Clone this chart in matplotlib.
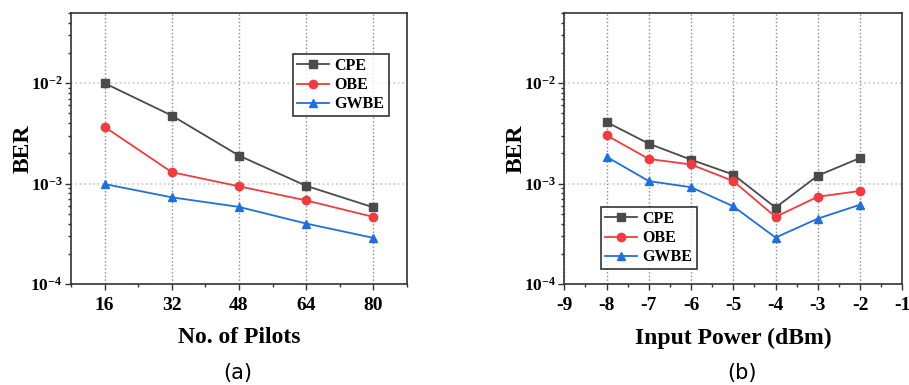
import numpy as np
import matplotlib
matplotlib.use('Agg')
import matplotlib.pyplot as plt
from matplotlib.ticker import FixedLocator, LogLocator, FuncFormatter, NullFormatter

plt.rcParams['font.family'] = 'Liberation Serif'
plt.rcParams['font.weight'] = 'bold'
plt.rcParams['axes.unicode_minus'] = False
plt.rcParams['mathtext.fontset'] = 'custom'
plt.rcParams['mathtext.rm'] = 'Liberation Serif:bold'
plt.rcParams['mathtext.it'] = 'Liberation Serif:bold'
plt.rcParams['mathtext.bf'] = 'Liberation Serif:bold'

# data (a) BER vs number of pilots
pilots = [16, 32, 48, 64, 80]
cpe_a = [1.0e-2, 4.76e-3, 1.9e-3, 9.5e-4, 5.8e-4]
obe_a = [3.67e-3, 1.3e-3, 9.4e-4, 6.8e-4, 4.66e-4]
gwbe_a = [9.9e-4, 7.3e-4, 5.86e-4, 4.0e-4, 2.88e-4]

# data (b) BER vs input power
power = [-8, -7, -6, -5, -4, -3, -2]
cpe_b = [4.1e-3, 2.5e-3, 1.73e-3, 1.23e-3, 5.77e-4, 1.2e-3, 1.8e-3]
obe_b = [3.03e-3, 1.76e-3, 1.55e-3, 1.06e-3, 4.66e-4, 7.4e-4, 8.45e-4]
gwbe_b = [1.85e-3, 1.06e-3, 9.2e-4, 5.94e-4, 2.9e-4, 4.48e-4, 6.16e-4]

names = ['CPE', 'OBE', 'GWBE']
colors = ['#4a4a4a', '#f03c3c', '#1f6fde']
markers = ['s', 'o', '^']

fig = plt.figure(figsize=(9.09, 3.85), dpi=100)
ax1 = fig.add_axes([0.0781, 0.2623, 0.3696, 0.7039])
ax2 = fig.add_axes([0.6208, 0.2623, 0.3718, 0.7039])


def ylabfmt(v, pos):
    e = int(round(np.log10(v)))
    return r'$\mathregular{10^{%d}}$' % e


def style(ax, x, series, xlim, xmajor, xminor, xlabel, legpos):
    for s, n, c, m in zip(series, names, colors, markers):
        ax.plot(x, s, color=c, marker=m, markersize=6, linewidth=1.3, label=n)
    ax.set_yscale('log')
    ax.set_ylim(1e-4, 5e-2)
    ax.set_xlim(*xlim)
    ax.xaxis.set_major_locator(FixedLocator(xmajor))
    ax.xaxis.set_minor_locator(FixedLocator(xminor))
    ax.yaxis.set_major_locator(FixedLocator([1e-4, 1e-3, 1e-2]))
    ax.yaxis.set_minor_locator(LogLocator(base=10, subs=np.arange(2, 10)))
    ax.yaxis.set_major_formatter(FuncFormatter(ylabfmt))
    ax.yaxis.set_minor_formatter(NullFormatter())
    ax.tick_params(axis='both', which='major', direction='out', length=4, width=1,
                   color='#333333')
    ax.tick_params(axis='both', which='minor', direction='out', length=2, width=1,
                   color='#333333')
    ax.tick_params(axis='x', pad=5, labelsize=14)
    ax.tick_params(axis='y', pad=2, labelsize=12.5)
    for t in ax.get_xticklabels() + ax.get_yticklabels():
        t.set_fontweight('bold')
    for sp in ax.spines.values():
        sp.set_color('#333333')
        sp.set_linewidth(1.2)
    ax.grid(True, axis='x', which='major', linestyle=':', color='#888888', linewidth=1)
    ax.grid(True, axis='y', which='major', linestyle=':', color='#c8c8c8', linewidth=1.2)
    ax.set_axisbelow(True)
    ax.set_xlabel(xlabel, fontsize=17, fontweight='bold', labelpad=10)
    ax.set_ylabel('BER', fontsize=17, fontweight='bold', labelpad=-2)
    leg = ax.legend(loc='upper left', bbox_to_anchor=legpos, fontsize=11.5, frameon=True,
                    fancybox=False, edgecolor='black', handlelength=2.0,
                    borderpad=0.25, labelspacing=0.2, handletextpad=0.35,
                    borderaxespad=0)
    leg.get_frame().set_linewidth(1.2)
    for t in leg.get_texts():
        t.set_fontweight('bold')


style(ax1, pilots, [cpe_a, obe_a, gwbe_a], (8, 88), [16, 32, 48, 64, 80],
      [8, 24, 40, 56, 72, 88], 'No. of Pilots', (0.661, 0.849))
style(ax2, power, [cpe_b, obe_b, gwbe_b], (-9, -1), list(range(-9, 0)),
      list(np.arange(-8.5, -1, 1.0)), 'Input Power (dBm)', (0.109, 0.284))

fig.text(0.262, 0.03, '(a)', ha='center', va='center', fontsize=15,
         family='DejaVu Sans', fontweight='normal')
fig.text(0.816, 0.03, '(b)', ha='center', va='center', fontsize=15,
         family='DejaVu Sans', fontweight='normal')

fig.savefig('out.png', dpi=100)
